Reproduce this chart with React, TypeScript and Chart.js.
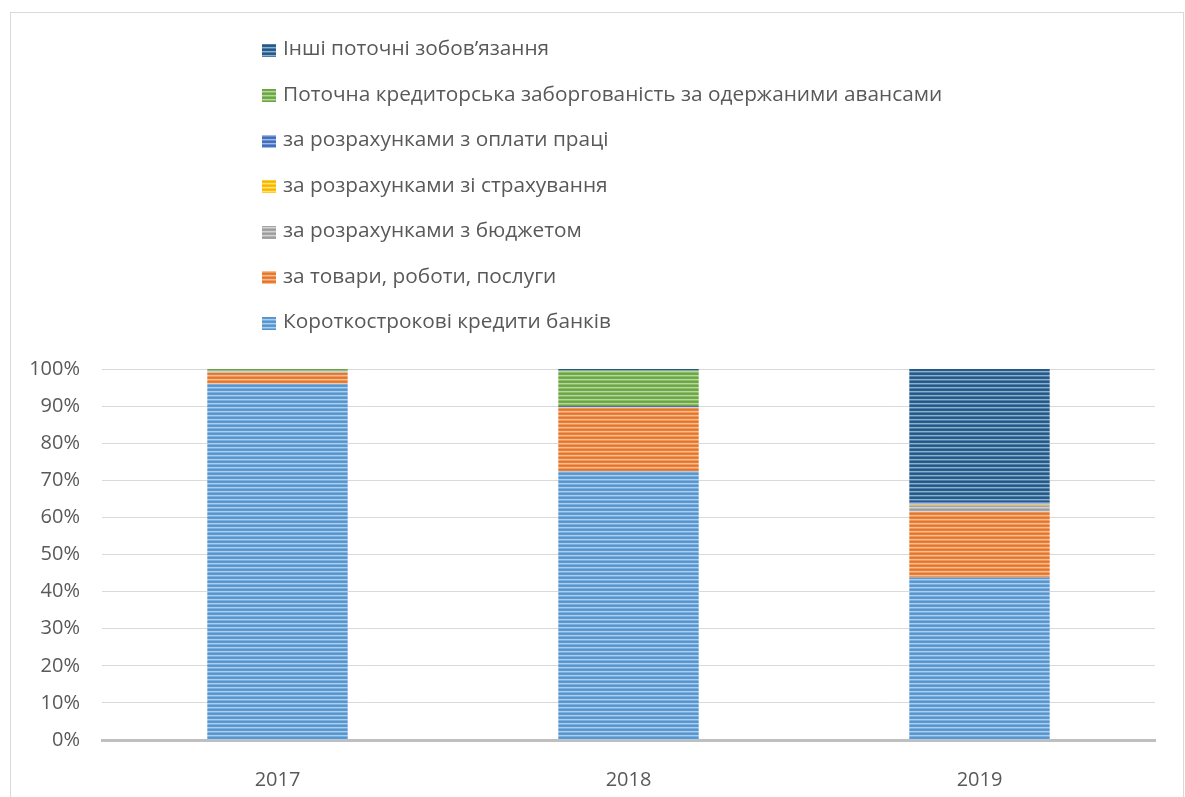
import React, { useEffect, useRef } from 'react';
import { Chart, registerables } from 'chart.js';

Chart.register(...registerables);

const categories = ['2017', '2018', '2019'];
const yTickLabels = ['0%', '10%', '20%', '30%', '40%', '50%', '60%', '70%', '80%', '90%', '100%'];

const seriesNames = [
  'Короткострокові кредити банків',
  'за товари, роботи, послуги',
  'за розрахунками з бюджетом',
  'за розрахунками зі страхування',
  'за розрахунками з оплати праці',
  'Поточна кредиторська заборгованість за одержаними авансами',
  'Інші поточні зобов’язання',
];
const seriesColors = ['#5B9BD5', '#ED7D31', '#A5A5A5', '#FFC000', '#4472C4', '#70AD47', '#255E91'];

const bankLoans = [96, 72.5, 43.8];
const goodsServices = [3, 17.2, 17.7];
const budget = [0.5, 0, 1.7];
const insurance = [0, 0, 0.3];
const wages = [0, 0.3, 0.5];
const advances = [0.5, 9.6, 0];
const otherLiabilities = [0, 0.4, 36];

const seriesValues = [bankLoans, goodsServices, budget, insurance, wages, advances, otherLiabilities];

const W = 1172;
const H = 784;
const FONT = '"Open Sans", "Liberation Sans", sans-serif';
const TEXT = '#595959';

function stripePattern(hex: string): CanvasPattern | string {
  const c = document.createElement('canvas');
  c.width = 8;
  c.height = 4;
  const g = c.getContext('2d');
  if (!g) return hex;
  g.fillStyle = hex;
  g.fillRect(0, 0, 8, 4);
  g.fillStyle = 'rgba(255,255,255,0.5)';
  g.fillRect(0, 2, 8, 1);
  g.fillStyle = 'rgba(255,255,255,0.2)';
  g.fillRect(0, 3, 8, 1);
  g.fillStyle = 'rgba(0,0,0,0.05)';
  g.fillRect(0, 0, 8, 1);
  const p = g.createPattern(c, 'repeat');
  return p || hex;
}

const legendPlugin = {
  id: 'verticalLegend',
  afterDraw(chart: any) {
    const ctx = chart.ctx as CanvasRenderingContext2D;
    const ds = chart.data.datasets;
    ctx.save();
    const boxX = 251;
    const textX = 272;
    const top = 36.5;
    const step = 45.5;
    const n = ds.length;
    for (let i = 0; i < n; i++) {
      const d = ds[n - 1 - i];
      const y = top + i * step;
      ctx.fillStyle = d.backgroundColor;
      ctx.fillRect(boxX, Math.round(y - 6), 14, 13);
      ctx.fillStyle = TEXT;
      ctx.font = `20.8px ${FONT}`;
      ctx.textBaseline = 'middle';
      ctx.textAlign = 'left';
      ctx.fillText(d.label, textX, y);
    }
    ctx.restore();
  },
};

export default function App() {
  const ref = useRef<HTMLCanvasElement | null>(null);

  useEffect(() => {
    if (!ref.current) return;
    const datasets = seriesNames.map((name, i) => ({
      label: name,
      data: seriesValues[i],
      backgroundColor: stripePattern(seriesColors[i]),
      borderWidth: 0,
      categoryPercentage: 1,
      barPercentage: 0.4,
    }));
    const chart = new Chart(ref.current, {
      type: 'bar',
      data: { labels: categories, datasets },
      plugins: [legendPlugin],
      options: {
        animation: false,
        responsive: false,
        devicePixelRatio: 1,
        layout: { padding: { top: 356, left: 0, right: 28, bottom: 0 } },
        plugins: {
          legend: { display: false },
          tooltip: { enabled: false },
        },
        scales: {
          x: {
            stacked: true,
            grid: { display: false },
            border: { display: true, color: '#BFBFBF', width: 3 },
            ticks: { color: TEXT, font: { family: FONT, size: 20 }, padding: 20 },
            afterFit: (s: any) => {
              s.height = 57;
            },
          },
          y: {
            stacked: true,
            min: 0,
            max: 100,
            grid: { color: '#D9D9D9', lineWidth: 1, drawTicks: false },
            border: { display: false },
            ticks: {
              stepSize: 10,
              color: TEXT,
              font: { family: FONT, size: 20 },
              padding: 22,
              callback: (v: any) => yTickLabels[Math.round(Number(v) / 10)] ?? `${v}%`,
            },
            afterFit: (s: any) => {
              s.width = 91;
            },
          },
        },
      },
    });
    return () => chart.destroy();
  }, []);

  return (
    <div
      style={{
        position: 'absolute',
        left: 10,
        top: 12,
        width: W,
        height: H + 20,
        border: '1px solid #D9D9D9',
        background: '#fff',
      }}
    >
      <canvas ref={ref} width={W} height={H} style={{ display: 'block', width: W, height: H }} />
    </div>
  );
}
